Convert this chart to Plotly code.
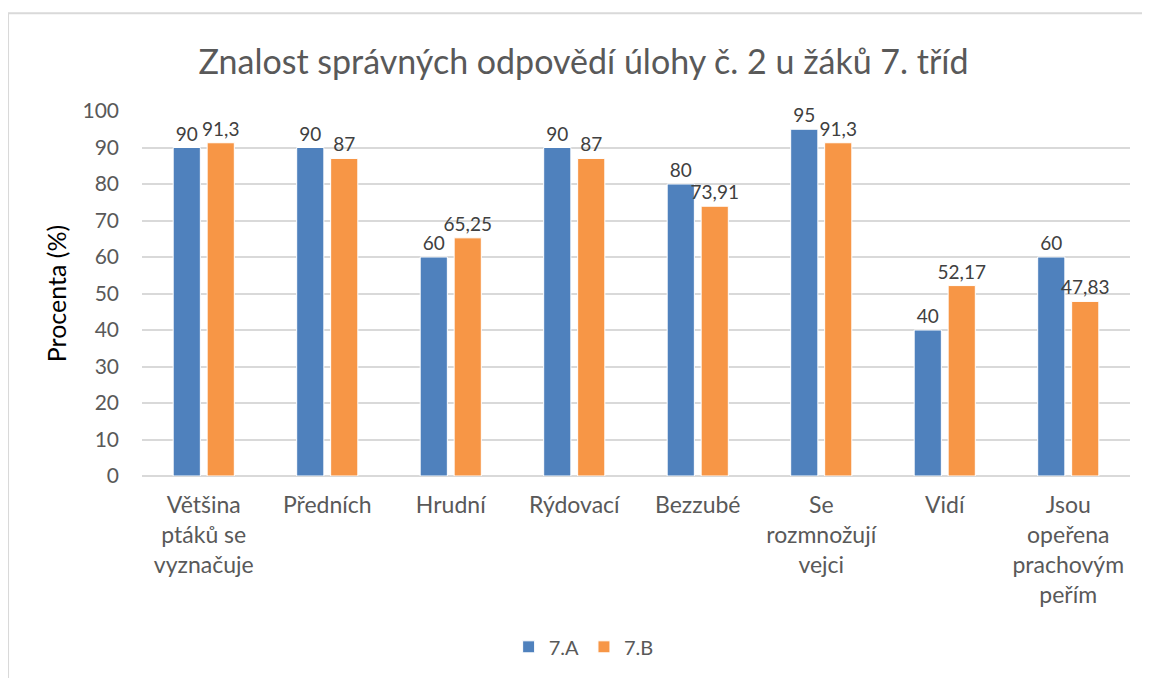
import plotly.graph_objects as go

categories = [
    "Většina<br>ptáků se<br>vyznačuje",
    "Předních",
    "Hrudní",
    "Rýdovací",
    "Bezzubé",
    "Se<br>rozmnožují<br>vejci",
    "Vidí",
    "Jsou<br>opeřena<br>prachovým<br>peřím",
]
series_a = [90, 90, 60, 90, 80, 95, 40, 60]
series_b = [91.3, 87, 65.25, 87, 73.91, 91.3, 52.17, 47.83]
name_a = "7.A"
name_b = "7.B"
title = "Znalost správných odpovědí úlohy č. 2 u žáků 7. tříd"
y_title = "Procenta (%)"

FONT = "Lato, 'Open Sans', sans-serif"


def fmt(v):
    return str(v).replace(".", ",")


fig = go.Figure()
fig.add_trace(go.Bar(
    x=categories, y=series_a, name=name_a,
    marker=dict(color="#4f81bd", line=dict(color="white", width=1)),
    text=[fmt(v) for v in series_a], textposition="outside",
    textfont=dict(size=19, color="#404040", family=FONT),
    cliponaxis=False, constraintext="none",
))
fig.add_trace(go.Bar(
    x=categories, y=series_b, name=name_b,
    marker=dict(color="#f79646", line=dict(color="white", width=1)),
    text=[fmt(v) for v in series_b], textposition="outside",
    textfont=dict(size=19, color="#404040", family=FONT),
    cliponaxis=False, constraintext="none",
))

fig.update_layout(
    width=1142, height=670,
    paper_bgcolor="white", plot_bgcolor="white",
    font=dict(family=FONT, color="#595959", size=20),
    title=dict(text=title, x=0.504, xanchor="center", y=0.919, yanchor="middle",
               font=dict(size=34, color="#595959", family=FONT)),
    margin=dict(l=134, r=20, t=103, b=202, autoexpand=False),
    barmode="group", bargap=0.45, bargroupgap=0.2,
    legend=dict(orientation="h", x=0.447, xanchor="center", y=-0.468, yanchor="middle",
                font=dict(size=20, color="#595959", family=FONT), itemwidth=30,
                traceorder="normal"),
    showlegend=True,
)
fig.update_xaxes(showgrid=False, showline=False, ticks="", tickangle=0, automargin=False,
                 ticklabelstandoff=13,
                 tickfont=dict(size=23, color="#595959", family=FONT))
fig.update_yaxes(range=[0, 100], dtick=10, showgrid=True, gridcolor="#d9d9d9", gridwidth=1.5,
                 zeroline=True, zerolinecolor="#d9d9d9", zerolinewidth=1.5,
                 showline=False, ticks="", ticklen=0, automargin=False,
                 ticklabelstandoff=22,
                 tickfont=dict(size=21, color="#595959", family=FONT),
                 title=dict(text=y_title, font=dict(size=25, color="#000000", family=FONT), standoff=8))

# chart outline border
fig.add_shape(type="rect", xref="paper", yref="paper",
              x0=-0.1356, x1=1.05, y0=-0.6, y1=1.268,
              line=dict(color="#d9d9d9", width=2), fillcolor="rgba(0,0,0,0)", layer="below")

fig.write_html("out.html")
